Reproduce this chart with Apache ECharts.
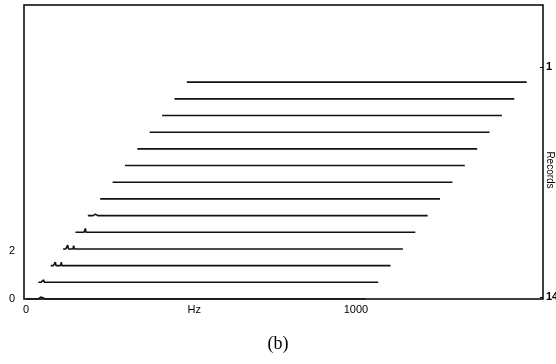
<!DOCTYPE html>
<html>
<head>
<meta charset="utf-8">
<script src="https://cdn.jsdelivr.net/npm/echarts@6/dist/echarts.min.js"></script>
<style>
  html, body { margin: 0; padding: 0; background: #fff; }
  #chart { width: 556px; height: 364px; }
</style>
</head>
<body>
<div id="chart"></div>
<script>
// frequency points (Hz) shared by every record
const freqHz = [0, 8, 12, 14, 16, 18, 20, 23, 26, 30, 32, 34, 37, 43, 45, 47, 60, 1030]
// amplitude of each record, record 1 (back) .. record 14 (front)
const records = [
  [0, 0, 0, 0, 0, 0, 0, 0, 0, 0, 0, 0, 0, 0, 0, 0, 0, 0],
  [0, 0, 0, 0, 0, 0, 0, 0, 0, 0, 0, 0, 0, 0, 0, 0, 0, 0],
  [0, 0, 0, 0, 0, 0, 0, 0, 0, 0, 0, 0, 0, 0, 0, 0, 0, 0],
  [0, 0, 0, 0, 0, 0, 0, 0, 0, 0, 0, 0, 0, 0, 0, 0, 0, 0],
  [0, 0, 0, 0, 0, 0, 0, 0, 0, 0, 0, 0, 0, 0, 0, 0, 0, 0],
  [0, 0, 0, 0, 0, 0, 0, 0, 0, 0, 0, 0, 0, 0, 0, 0, 0, 0],
  [0, 0, 0, 0, 0, 0, 0, 0, 0, 0, 0, 0, 0, 0, 0, 0, 0, 0],
  [0, 0, 0, 0, 0, 0, 0, 0, 0, 0, 0, 0, 0, 0, 0, 0, 0, 0],
  [0, 0, 0, 0, 0, 0, 0, 0.06, 0, 0, 0, 0, 0, 0, 0, 0, 0, 0],
  [0, 0, 0.06, 0, 0, 0, 0, 0, 0, 0.16, 0, 0, 0, 0, 0, 0, 0, 0],
  [0, 0, 0, 0.16, 0, 0, 0, 0, 0, 0, 0.14, 0, 0, 0, 0, 0, 0, 0],
  [0, 0, 0, 0.15, 0, 0, 0, 0, 0, 0, 0.15, 0, 0, 0, 0, 0, 0, 0],
  [0, 0, 0, 0, 0.1, 0, 0, 0, 0, 0, 0, 0, 0, 0, 0, 0, 0, 0],
  [0, 0, 0, 0, 0, 0.08, 0, 0, 0, 0, 0, 0, 0, 0, 0.08, 0, 0, 0]
]
const recordTicks = [1, 14]
const ampTicks = [0, 2]
const hzTicks = [0, 510, 1000]
// shift between neighbouring records in the waterfall
const stepHz = 37.5
const stepAmp = 0.695

const series = records.map((amps, k) => {
  const depth = records.length - 1 - k // 0 for the front record
  return {
    name: 'Record ' + (k + 1),
    type: 'line',
    showSymbol: false,
    silent: true,
    lineStyle: { color: '#111', width: 1.6 },
    data: freqHz.map((f, j) => [f + depth * stepHz, amps[j] + depth * stepAmp])
  }
})

const chart = echarts.init(document.getElementById('chart'))
chart.setOption({
  animation: false,
  title: {
    text: '(b)',
    left: 'center',
    top: 330,
    textStyle: { fontFamily: 'Liberation Serif', fontSize: 18, fontWeight: 'normal', color: '#000' }
  },
  grid: {
    left: 24, right: 13, top: 5, bottom: 65,
    outerBoundsMode: 'none',
    containLabel: false,
    show: true, borderColor: '#000', borderWidth: 1.5
  },
  xAxis: {
    type: 'value',
    min: -6,
    max: 1567,
    splitLine: { show: false },
    axisLine: { show: false },
    axisTick: { show: false },
    axisLabel: {
      customValues: hzTicks,
      margin: 5,
      color: '#000',
      fontFamily: 'Liberation Sans',
      fontSize: 11,
      formatter: v => (v === 510 ? 'Hz' : String(v))
    }
  },
  yAxis: [
    {
      type: 'value',
      min: 0,
      max: 12.25,
      splitLine: { show: false },
      axisLine: { show: false },
      axisTick: { show: false },
      axisLabel: {
        customValues: ampTicks,
        margin: 9,
        color: '#000',
        fontFamily: 'Liberation Sans',
        fontSize: 11,
        padding: [0, 0, 8, 0]
      }
    },
    {
      type: 'value',
      position: 'right',
      inverse: true,
      min: -2.505,
      max: 14.113,
      name: 'Records',
      nameLocation: 'middle',
      nameRotate: -90,
      nameGap: 2,
      nameMoveOverlap: false,
      nameTextStyle: { color: '#000', fontFamily: 'Liberation Sans', fontSize: 10, padding: [0, 0, 0, 36] },
      splitLine: { show: false },
      axisLine: { show: false },
      axisTick: { show: true, inside: true, customValues: recordTicks, length: 3, lineStyle: { color: '#000' } },
      axisLabel: {
        customValues: recordTicks,
        margin: 3,
        color: '#000',
        fontFamily: 'Liberation Sans',
        fontSize: 11,
        fontWeight: 'bold'
      }
    }
  ],
  series: series
})
</script>
</body>
</html>
